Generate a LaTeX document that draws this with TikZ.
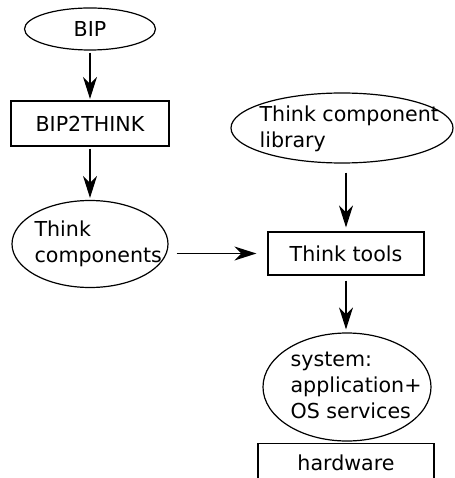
\documentclass[tikz,border=0pt]{standalone}
\usepackage{fontspec}
\setmainfont{DejaVu Sans}
\usetikzlibrary{arrows.meta,shapes.geometric}
\begin{document}
\begin{tikzpicture}[x=1pt,y=-1pt, line width=1.2pt,
  every node/.style={font=\fontsize{20.6}{26}\selectfont, inner sep=0pt},
  oval/.style={draw, ellipse},
  box/.style={draw, rectangle},
  lbl/.style={align=left, anchor=base west},
  arr/.style={-{Stealth[length=22pt,width=14pt,inset=7pt]}}]
\useasboundingbox (0,0) rectangle (454,478);
\node[oval, minimum width=131, minimum height=42] (bip) at (90,29) {BIP};
\node[box, minimum width=158, minimum height=45] (b2t) at (90,123.5) {BIP2THINK};
\node[oval, minimum width=156, minimum height=87] (tc) at (90,244) {};
\node[lbl] (tct) at (34,262) {Think\\components};
\node[oval, minimum width=222, minimum height=70] (lib) at (342,128) {};
\node[lbl] (libt) at (259,148) {Think component\\library};
\node[box, minimum width=156, minimum height=43] (tt) at (346,253.5) {Think tools};
\node[oval, minimum width=168, minimum height=108] (sys) at (347,387) {};
\node[lbl] (syst) at (290,418) {system:\\application+\\OS services};
\node[box, minimum width=176, minimum height=80, anchor=north] (hw) at (346,443) {};
\node[anchor=base] (hwt) at (346,470) {hardware};
\draw[arr, shorten <=2pt, shorten >=1.5pt] (bip) -- (b2t);
\draw[arr, shorten <=2pt, shorten >=2pt] (b2t) -- (tc);
\draw[arr] ([xshift=8pt]tc.east |- tt.west) -- ([xshift=-11pt]tt.west);
\draw[arr, shorten <=9pt, shorten >=4pt] (lib.south -| tt.north) -- (tt.north);
\draw[arr, shorten <=5pt, shorten >=3pt] (tt.south) -- (tt.south |- sys.north);
\end{tikzpicture}
\end{document}
